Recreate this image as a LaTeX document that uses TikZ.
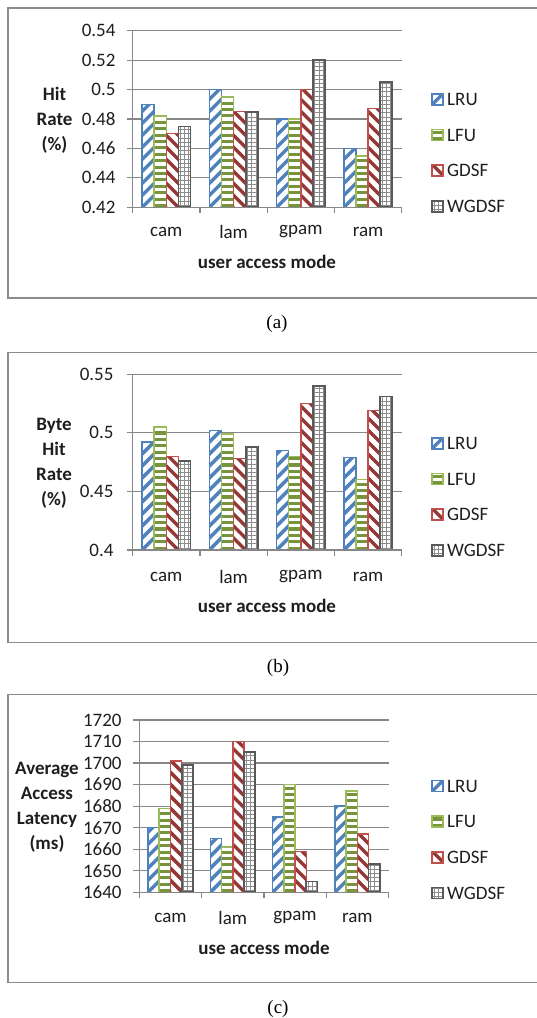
\documentclass[tikz,border=0pt]{standalone}
\usepackage{fontspec}
\setmainfont{Carlito}
\newfontfamily\capfont{Liberation Serif}

\definecolor{lruc}{HTML}{4F81BD}
\definecolor{lfuc}{HTML}{9BBB59}
\definecolor{lfus}{HTML}{77933C}
\definecolor{gdsfc}{HTML}{C0504D}
\definecolor{gdsfs}{HTML}{953735}
\definecolor{wgc}{HTML}{595959}
\definecolor{wgs}{HTML}{8C8C8C}
\definecolor{gridc}{HTML}{878787}
\definecolor{framec}{HTML}{8C8C8C}
\definecolor{txtc}{HTML}{1E1E1E}

% hatched bar: #1 series (0 LRU, 1 LFU, 2 GDSF, 3 WGDSF), #2 left x, #3 bottom y,
% #4 top y, #5 width
\newcommand\hatchbar[5]{%
  \begin{scope}
    \clip (#2,#3) rectangle (#2+#5,#4);
    \fill[white] (#2,#3) rectangle (#2+#5,#4);
    \ifcase#1\relax
      \foreach \q in {-192,-180,...,24} \draw[lrus] (#2+\q,#3) -- ++(200,-200);
    \or
      \foreach \q in {0,6.4,...,180} \draw[lfust] (#2-2,#3-1.8-\q) -- ++(#5+4,0);
    \or
      \foreach \q in {-24,-12,...,192} \draw[gdsfst] (#2+\q,#3) -- ++(-200,-200);
    \or
      \foreach \q in {0,4.2,...,16} \draw[wgst] (#2+\q+2,#3) -- ++(0,-200);
      \foreach \q in {0,4.2,...,180} \draw[wgst] (#2-2,#3-\q-2) -- ++(#5+4,0);
    \fi
  \end{scope}
  \ifcase#1\relax
    \draw[lrubar] (#2,#3) rectangle (#2+#5,#4);
  \or
    \draw[lfubar] (#2,#3) rectangle (#2+#5,#4);
  \or
    \draw[gdsfbar] (#2,#3) rectangle (#2+#5,#4);
  \or
    \draw[wgbar] (#2,#3) rectangle (#2+#5,#4);
  \fi}

\begin{document}
\begin{tikzpicture}[x=1pt,y=-1pt,
  font=\fontsize{19}{23}\selectfont, text=txtc,
  lrus/.style={draw=lruc, line width=3.4pt},
  lfust/.style={draw=lfus, line width=3.1pt},
  gdsfst/.style={draw=gdsfs, line width=3.4pt},
  wgst/.style={draw=wgs, line width=0.9pt},
  lrubar/.style={draw=lruc, line width=1.5pt},
  lfubar/.style={draw=lfuc, line width=1.5pt},
  gdsfbar/.style={draw=gdsfc, line width=1.5pt},
  wgbar/.style={draw=wgc, line width=1.7pt},
  gridline/.style={draw=gridc, line width=1.2pt},
  framebox/.style={draw=framec, line width=1.5pt},
  ticklab/.style={anchor=east, inner sep=0pt},
  catlab/.style={inner sep=0pt},
  axtitle/.style={font=\fontsize{19}{23}\selectfont\bfseries, inner sep=0pt},
  ytitle/.style={font=\fontsize{19}{25}\selectfont\bfseries, align=center, inner sep=0pt},
  legtext/.style={anchor=west, inner sep=0pt},
  caption/.style={font=\capfont\fontsize{19}{23}\selectfont, text=black, inner sep=0pt}
]
\useasboundingbox (0,0) rectangle (536,1018);

% ---------------- frames and captions ----------------
\draw[framebox] (545,8) -- (8,8) -- (8,298) -- (545,298);
\draw[framebox] (545,352.7) -- (8,352.7) -- (8,642.3) -- (545,642.3);
\draw[framebox] (545,694.3) -- (8,694.3) -- (8,982.7) -- (545,982.7);
\node[caption] (capa) at (277,324) {(a)};
\node[caption] (capb) at (278,668) {(b)};
\node[caption] (capc) at (278,1009) {(c)};

% ---------------- legends ----------------
\foreach \y [count=\c] in {99.3,443.3,786}{
  \foreach \t [count=\k from 0] in {LRU,LFU,GDSF,WGDSF}{
    \pgfmathsetmacro\yy{\y+\k*35.7}
    \hatchbar{\k}{432}{\yy+5.5}{\yy-5.5}{11}
    \node[legtext] (leg\c\k) at (447,\yy) {\t};
  }
}

% ---------------- chart (a): hit rate ----------------
\def\xo{132.7}\def\xe{402}\def\cw{67.25}\def\yb{207.3}\def\pst{29.43}
\foreach \lab [count=\j from 0] in {0.42,0.44,0.46,0.48,0.5,0.52,0.54}{
  \draw[gridline] (\xo-6,\yb-\j*\pst) -- (\xe,\yb-\j*\pst);
  \node[ticklab] (ya\j) at (\xo-17,\yb-\j*\pst) {\lab};
}
\foreach \va/\vb/\vc/\vd [count=\g from 0] in
  {0.49/0.482/0.47/0.475, 0.5/0.495/0.485/0.485, 0.48/0.48/0.5/0.52, 0.46/0.455/0.487/0.505}{
  \foreach \v [count=\k from 0] in {\va,\vb,\vc,\vd}{
    \pgfmathsetmacro\bw{0.18*\cw}
    \pgfmathsetmacro\xl{\xo+\g*\cw+0.14*\cw+\k*\bw}
    \pgfmathsetmacro\yt{\yb-(\v-0.42)/0.02*\pst}
    \hatchbar{\k}{\xl}{\yb}{\yt}{\bw}
  }
}
\draw[gridline] (\xo,\yb-6*\pst) -- (\xo,\yb) -- (\xe,\yb);
\foreach \t in {0,...,4} \draw[gridline] (\xo+\t*\cw,\yb) -- ++(0,6);
\foreach \n [count=\g from 0] in {cam,lam,gpam,ram}
  \node[catlab] (xa\g) at (\xo+\g*\cw+0.5*\cw,232) {\n};
\node[axtitle] (ta) at (267,262) {user access mode};
\node[ytitle] (ra) at (54.5,120) {Hit\\Rate\\(\%)};

% ---------------- chart (b): byte hit rate ----------------
\def\xo{132.7}\def\xe{402}\def\cw{67.25}\def\yb{550}\def\pst{58.57}
\foreach \lab [count=\j from 0] in {0.4,0.45,0.5,0.55}{
  \draw[gridline] (\xo-6,\yb-\j*\pst) -- (\xe,\yb-\j*\pst);
  \node[ticklab] (yb\j) at (\xo-19,\yb-\j*\pst) {\lab};
}
\foreach \va/\vb/\vc/\vd [count=\g from 0] in
  {0.492/0.505/0.48/0.476, 0.502/0.499/0.478/0.488, 0.485/0.48/0.525/0.54, 0.479/0.46/0.519/0.531}{
  \foreach \v [count=\k from 0] in {\va,\vb,\vc,\vd}{
    \pgfmathsetmacro\bw{0.18*\cw}
    \pgfmathsetmacro\xl{\xo+\g*\cw+0.14*\cw+\k*\bw}
    \pgfmathsetmacro\yt{\yb-(\v-0.4)/0.05*\pst}
    \hatchbar{\k}{\xl}{\yb}{\yt}{\bw}
  }
}
\draw[gridline] (\xo,\yb-3*\pst) -- (\xo,\yb) -- (\xe,\yb);
\foreach \t in {0,...,4} \draw[gridline] (\xo+\t*\cw,\yb) -- ++(0,6);
\foreach \n [count=\g from 0] in {cam,lam,gpam,ram}
  \node[catlab] (xb\g) at (\xo+\g*\cw+0.5*\cw,576.7) {\n};
\node[axtitle] (tb) at (267,606) {user access mode};
\node[ytitle] (rb) at (54,463.5) {Byte\\Hit\\Rate\\(\%)};

% ---------------- chart (c): average access latency ----------------
\def\xo{139.3}\def\xe{389}\def\cw{62.3}\def\yb{892.3}\def\pst{21.54}
\foreach \lab [count=\j from 0] in {1640,1650,1660,1670,1680,1690,1700,1710,1720}{
  \draw[gridline] (\xo-6,\yb-\j*\pst) -- (\xe,\yb-\j*\pst);
  \node[ticklab] (yc\j) at (\xo-17.5,\yb-\j*\pst) {\lab};
}
\foreach \va/\vb/\vc/\vd [count=\g from 0] in
  {1670/1679/1701/1699, 1665/1661/1710/1705, 1675/1690/1659/1645, 1680/1687/1667/1653}{
  \foreach \v [count=\k from 0] in {\va,\vb,\vc,\vd}{
    \pgfmathsetmacro\bw{0.18*\cw}
    \pgfmathsetmacro\xl{\xo+\g*\cw+0.14*\cw+\k*\bw}
    \pgfmathsetmacro\yt{\yb-(\v-1640)/10*\pst}
    \hatchbar{\k}{\xl}{\yb}{\yt}{\bw}
  }
}
\draw[gridline] (\xo,\yb-8*\pst) -- (\xo,\yb) -- (\xe,\yb);
\foreach \t in {0,...,4} \draw[gridline] (\xo+\t*\cw,\yb) -- ++(0,6);
\foreach \n [count=\g from 0] in {cam,lam,gpam,ram}
  \node[catlab] (xc\g) at (\xo+\g*\cw+0.5*\cw,917.7) {\n};
\node[axtitle] (tc) at (264,947.7) {use access mode};
\node[ytitle] (rc) at (47,807) {Average\\Access\\Latency\\(ms)};
\end{tikzpicture}
\end{document}
